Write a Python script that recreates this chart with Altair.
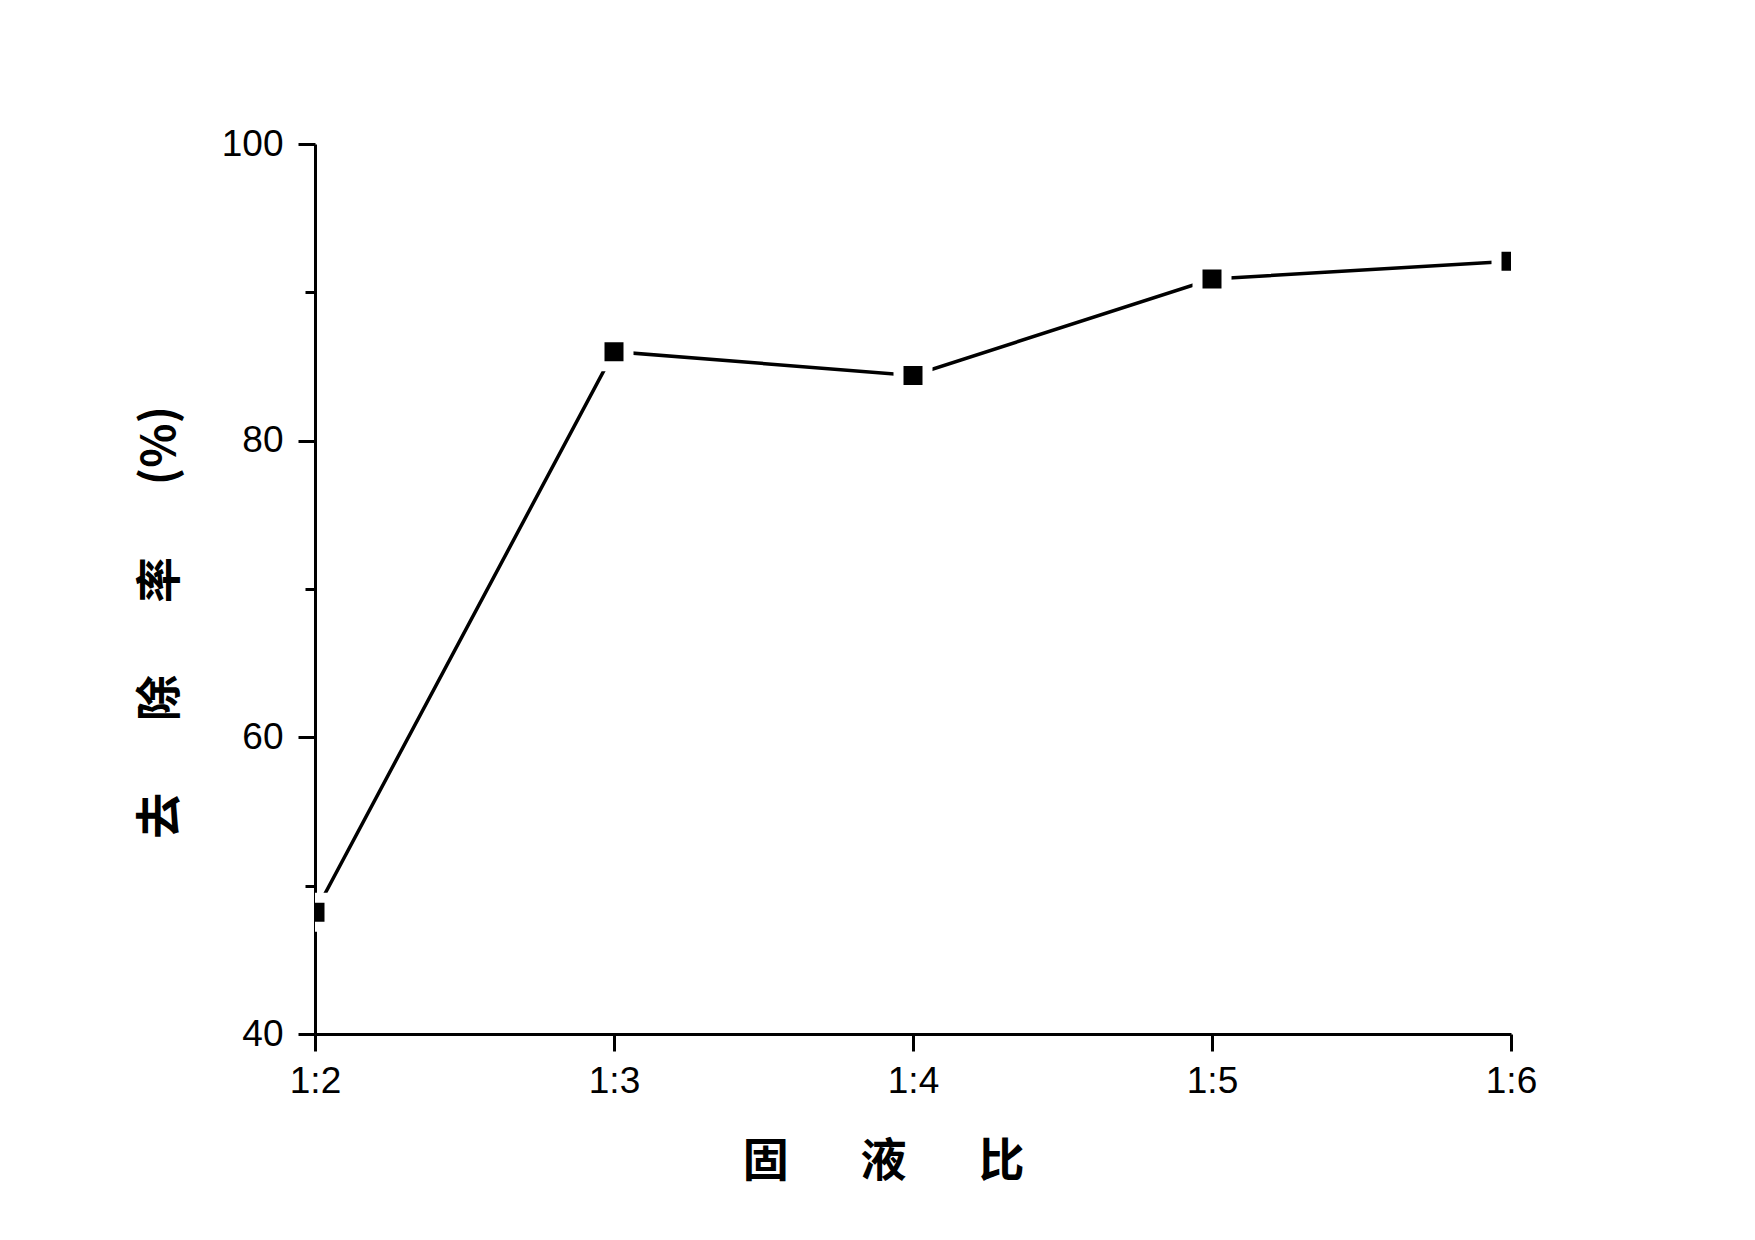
import altair as alt
import pandas as pd

ratios = ["1:2", "1:3", "1:4", "1:5", "1:6"]
removal = [48.2, 86.0, 84.4, 90.9, 92.1]
y_ticks = [40, 50, 60, 70, 80, 90, 100]

df = pd.DataFrame({"ratio": ratios, "removal": removal})

x_enc = alt.X(
    "ratio:N",
    sort=ratios,
    scale=alt.Scale(type="point", padding=0),
    axis=alt.Axis(
        title="固\u3000\u2002\u200a液\u3000\u2002\u200a比",
        titleX=568, titleY=127, titleAlign="center", titleBaseline="middle",
        labelAngle=0, labelPadding=12,
    ),
)
y_enc = alt.Y(
    "removal:Q",
    scale=alt.Scale(domain=[40, 100], nice=False, zero=False),
    axis=alt.Axis(
        title="去\u3000\u2002\u200a除\u3000\u2002\u200a率\u3000\u2002\u200a(%)",
        titleX=-155, titleY=478, titleAlign="center", titleBaseline="middle", titleAngle=270,
        values=y_ticks,
        labelExpr="datum.value % 20 == 0 ? datum.label : ''",
        tickSize={"condition": {"test": "datum.value % 20 == 0", "value": 17}, "value": 10},
        labelPadding=15,
    ),
)

base = alt.Chart(df).encode(x=x_enc, y=y_enc)
line = base.mark_line(color="black", strokeWidth=3.5, clip=True)
pts = base.mark_square(fill="black", stroke="white", strokeWidth=10, size=841, opacity=1, clip=True)

chart = (
    alt.layer(line, pts)
    .properties(
        width=1196, height=890,
        autosize=alt.AutoSizeParams(type="none"),
        padding={"left": 307, "top": 136, "right": 200, "bottom": 180},
    )
    .configure_view(stroke=None)
    .configure_axis(
        grid=False, zindex=1,
        domainColor="black", domainWidth=3,
        tickColor="black", tickWidth=3, tickSize=17,
        labelFont="Liberation Sans", labelFontSize=37, labelColor="black",
        titleFont="Noto Sans CJK SC", titleFontSize=46, titleFontWeight="bold", titleColor="black",
    )
)

chart.save("out.html", embed_options={"renderer": "svg", "actions": False})
